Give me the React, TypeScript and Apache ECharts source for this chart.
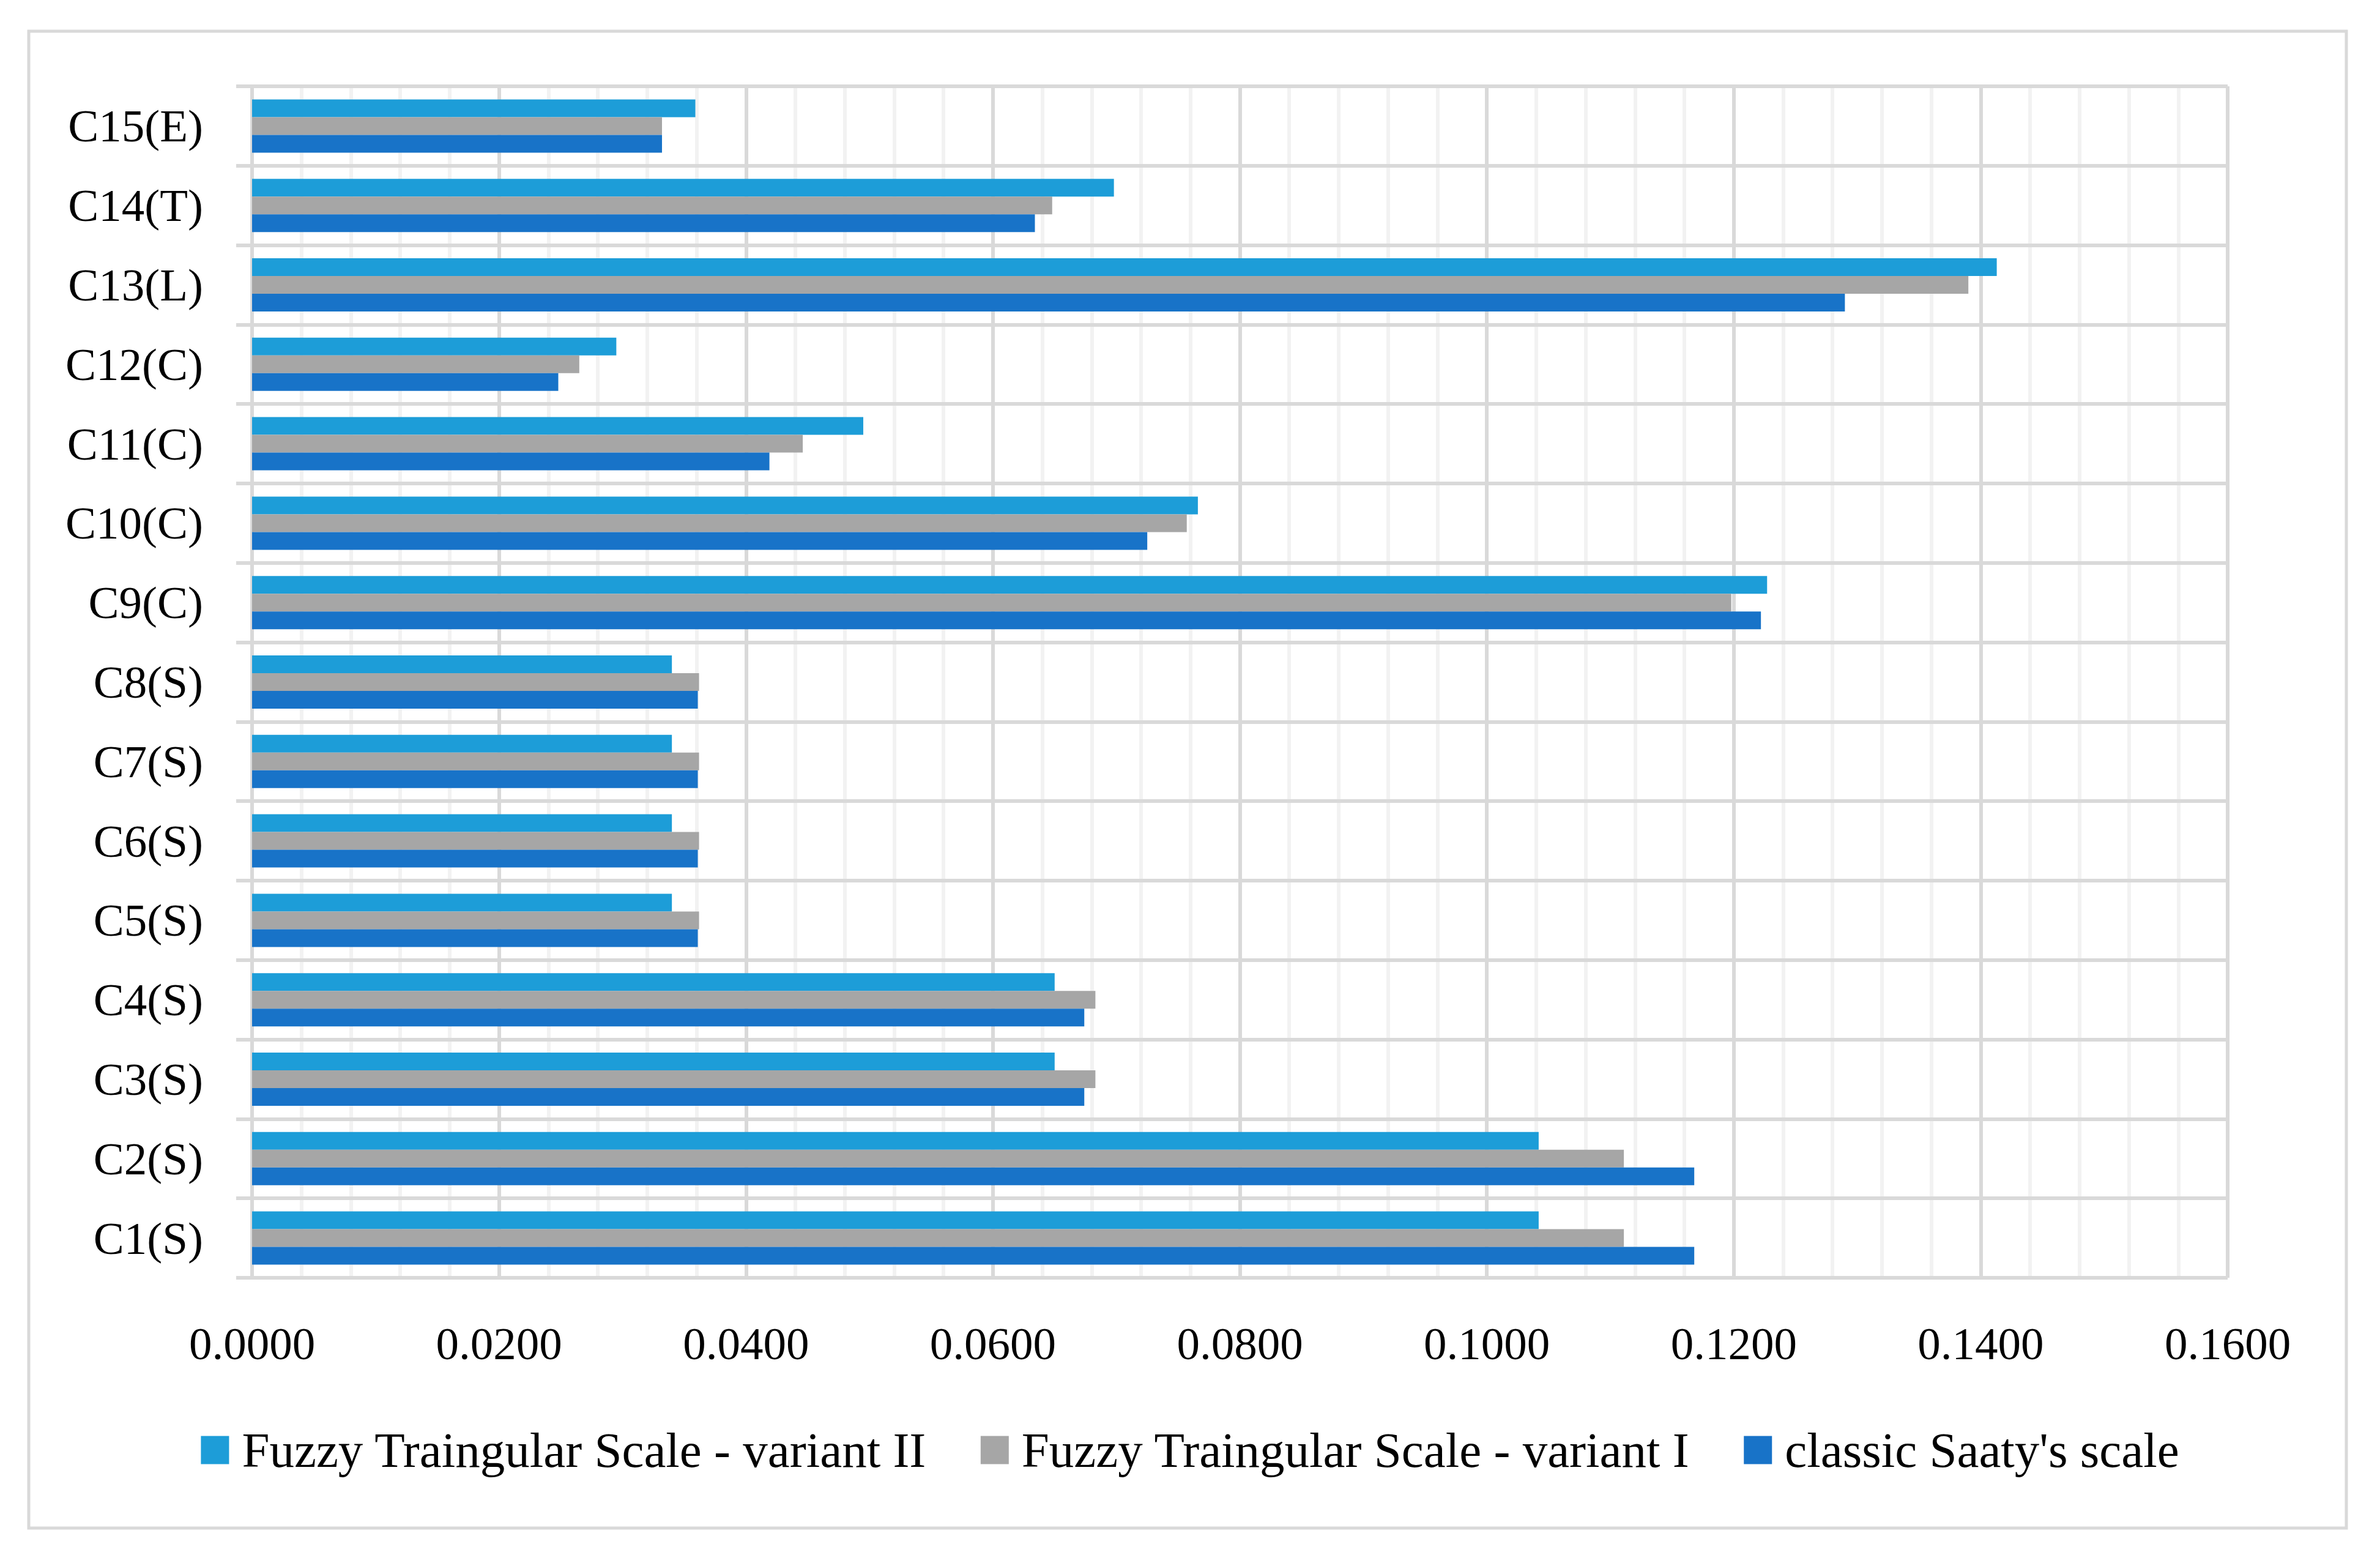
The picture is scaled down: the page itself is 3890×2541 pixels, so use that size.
import React, { useEffect, useRef } from "react";
import * as echarts from "echarts";

const categories = ["C1(S)", "C2(S)", "C3(S)", "C4(S)", "C5(S)", "C6(S)", "C7(S)", "C8(S)", "C9(C)", "C10(C)", "C11(C)", "C12(C)", "C13(L)", "C14(T)", "C15(E)"];
const variantII = [0.1042, 0.1042, 0.065, 0.065, 0.034, 0.034, 0.034, 0.034, 0.1227, 0.0766, 0.0495, 0.0295, 0.1413, 0.0698, 0.0359];
const variantI = [0.1111, 0.1111, 0.0683, 0.0683, 0.0362, 0.0362, 0.0362, 0.0362, 0.1198, 0.0757, 0.0446, 0.0265, 0.139, 0.0648, 0.0332];
const classic = [0.1168, 0.1168, 0.0674, 0.0674, 0.0361, 0.0361, 0.0361, 0.0361, 0.1222, 0.0725, 0.0419, 0.0248, 0.129, 0.0634, 0.0332];
const seriesNames = ["Fuzzy Traingular Scale - variant II", "Fuzzy Traingular Scale - variant I", "classic Saaty's scale"];
const colors = ["#1d9dd8", "#a6a6a6", "#1873c8"];

const FONT = "'Liberation Serif', 'DejaVu Serif', serif";

export default function App() {
  const ref = useRef<HTMLDivElement>(null);
  useEffect(() => {
    if (!ref.current) return;
    const chart = echarts.init(ref.current, null, { renderer: "svg" });
    const datas = [variantII, variantI, classic];
    chart.setOption({
      animation: false,
      backgroundColor: "#ffffff",
      graphic: [
        {
          type: "rect",
          shape: { x: 47, y: 51, width: 3788, height: 2446 },
          style: { fill: "none", stroke: "#d9d9d9", lineWidth: 5 },
          silent: true,
        },
      ],
      grid: { left: 412, right: 249, top: 141, bottom: 453, containLabel: false },
      legend: {
        data: seriesNames,
        left: "center",
        top: 2324,
        itemWidth: 46,
        itemHeight: 46,
        itemGap: 88,
        icon: "rect",
        textStyle: { fontFamily: FONT, fontSize: 81, color: "#000", padding: [0, 0, 0, 16], lineHeight: 46 },
      },
      xAxis: {
        type: "value",
        min: 0,
        max: 0.16,
        interval: 0.02,
        axisLine: { show: false },
        axisTick: { show: false },
        minorTick: { show: false, splitNumber: 5 },
        splitLine: { show: true, lineStyle: { color: "#d9d9d9", width: 6 } },
        minorSplitLine: { show: true, lineStyle: { color: "#f2f2f2", width: 6 } },
        axisLabel: {
          formatter: (v: number) => v.toFixed(4),
          fontFamily: FONT,
          fontSize: 75,
          color: "#000",
          margin: 70,
        },
      },
      yAxis: {
        type: "category",
        data: categories,
        z: 1,
        axisLine: { show: true, lineStyle: { color: "#d9d9d9", width: 6 } },
        axisTick: { show: true, length: 26, interval: 0, lineStyle: { color: "#d9d9d9", width: 6 } },
        splitLine: { show: true, interval: 0, lineStyle: { color: "#d9d9d9", width: 6 } },
        axisLabel: { fontFamily: FONT, fontSize: 75, color: "#000", margin: 80, interval: 0 },
      },
      series: seriesNames.map((name, i) => ({
        name,
        type: "bar",
        data: datas[i],
        barGap: "0%",
        barCategoryGap: "33%",
        itemStyle: { color: colors[i] },
      })),
    });
    return () => chart.dispose();
  }, []);
  return <div ref={ref} style={{ position: "absolute", left: 0, top: 0, width: 3890, height: 2541 }} />;
}
